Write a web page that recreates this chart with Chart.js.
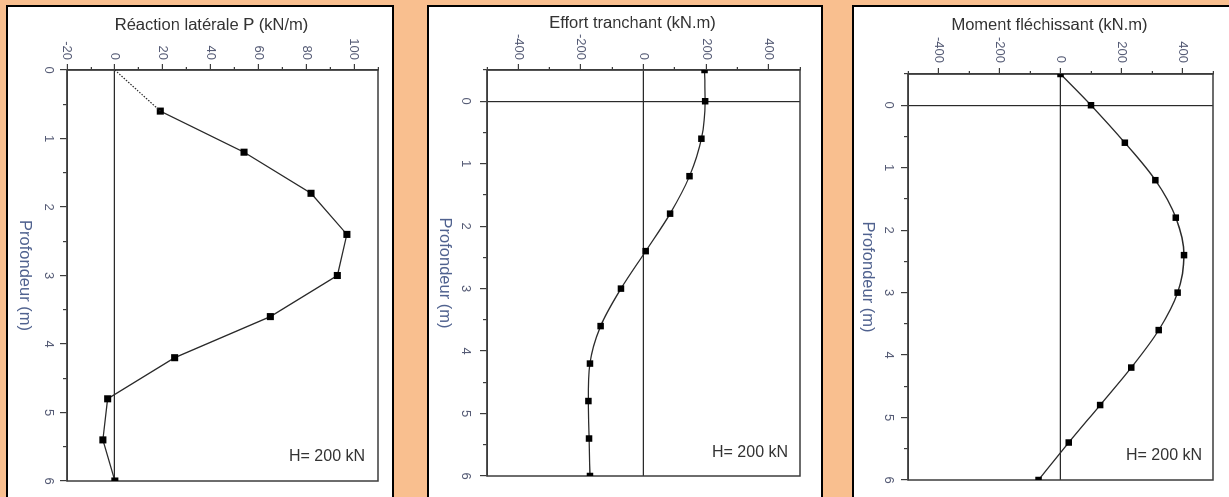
<!DOCTYPE html>
<html><head><meta charset="utf-8">
<script src="https://cdn.jsdelivr.net/npm/chart.js@4.4.1/dist/chart.umd.min.js"></script>
<style>
html,body{margin:0;padding:0;background:#f9bf8f;width:1229px;height:497px;overflow:hidden;font-family:'Liberation Sans',Arial,sans-serif;}
body{position:relative;}
.panel{position:absolute;background:#fff;border:2px solid #000;box-sizing:border-box;}
.rot{position:absolute;transform-origin:0 0;transform:rotate(90deg);}
.rot canvas{display:block;}
.note{position:absolute;font-size:16px;line-height:16px;color:#333;white-space:nowrap;}
</style></head><body>
<div class="panel" style="left:6px;top:5px;width:388px;height:520px"></div>
<div class="panel" style="left:427px;top:5px;width:396px;height:520px"></div>
<div class="panel" style="left:852px;top:5px;width:400px;height:520px"></div>

<div class="rot" id="w1"><canvas id="c1"></canvas></div>
<div class="rot" id="w2"><canvas id="c2"></canvas></div>
<div class="rot" id="w3"><canvas id="c3"></canvas></div>

<div class="note" style="left:289px;top:448px">H= 200 kN</div>
<div class="note" style="left:712px;top:444px">H= 200 kN</div>
<div class="note" style="left:1126px;top:447px">H= 200 kN</div>

<script>
// ---- data ----
const depthTicks = [0, 1, 2, 3, 4, 5, 6];
const reactionTicks = [-20, 0, 20, 40, 60, 80, 100];
const forceTicks = [-400, -200, 0, 200, 400];

const leadDepth = [0, 0.6];
const leadReaction = [0, 19];
const depthReaction = [0.6, 1.2, 1.8, 2.4, 3.0, 3.6, 4.2, 4.8, 5.4, 6.0];
const reaction = [19, 54, 82, 97, 93, 65, 25, -3, -5, 0];

const depthShear = [-0.5, 0, 0.6, 1.2, 1.8, 2.4, 3.0, 3.6, 4.2, 4.8, 5.4, 6.0];
const shear = [195, 197, 185, 147, 85, 7, -72, -137, -171, -176, -174, -171];

const depthMoment = [-0.5, 0, 0.6, 1.2, 1.8, 2.4, 3.0, 3.6, 4.2, 4.8, 5.4, 6.0];
const moment = [0, 100, 211, 311, 378, 405, 384, 322, 232, 130, 27, -72];

const titles = ['Réaction latérale P (kN/m)', 'Effort tranchant (kN.m)', 'Moment fléchissant (kN.m)'];
const depthTitle = 'Profondeur (m)';

// ---- styling ----
const FONT = "'Liberation Sans', Arial, sans-serif";
Chart.defaults.font.family = FONT;
const axisColor = '#3c3c3c';
const lineColor = '#2a2a2a';
const tickLabelColor = '#555b75';

const pts = (xs, ys) => xs.map((x, i) => ({x: x, y: ys[i]}));

const framePlugin = {
  id: 'frame',
  beforeDatasetsDraw(chart) {
    const {ctx, chartArea: a} = chart;
    ctx.save();
    ctx.strokeStyle = axisColor;
    ctx.lineWidth = 1.5;
    ctx.strokeRect(a.left, a.top, a.right - a.left, a.bottom - a.top);
    ctx.restore();
  }
};

// value-axis title, drawn beside the value scale (rotated canvas makes it horizontal)
const valueTitlePlugin = {
  id: 'valueTitle',
  afterDraw(chart, args, opts) {
    const {ctx, chartArea: a} = chart;
    const s = chart.scales.y;
    ctx.save();
    ctx.font = '16.5px ' + FONT;
    ctx.fillStyle = '#333333';
    ctx.textAlign = 'center';
    ctx.textBaseline = 'middle';
    ctx.translate(s.left + opts.offset, (a.top + a.bottom) / 2 + opts.shift);
    ctx.rotate(-Math.PI / 2);
    ctx.fillText(opts.text, 0, 0);
    ctx.restore();
  }
};

function makeChart(n, c) {
  const wrap = document.getElementById('w' + n);
  const cv = document.getElementById('c' + n);
  cv.width = c.W; cv.height = c.H;
  cv.style.width = c.W + 'px'; cv.style.height = c.H + 'px';
  wrap.style.left = (c.X0 + c.H) + 'px';
  wrap.style.top = c.Y0 + 'px';
  wrap.style.width = c.W + 'px';
  wrap.style.height = c.H + 'px';

  const near = (a, b) => Math.abs(a - b) < 1e-6;
  const isMajorDepth = v => depthTicks.some(t => near(t, v));
  const isMajorVal = v => c.valTicks.some(t => near(t, v));

  new Chart(cv, {
    type: 'line',
    data: {datasets: c.datasets},
    options: {
      responsive: false,
      animation: false,
      devicePixelRatio: 1,
      layout: {padding: {left: 0, right: c.padR, top: c.padT, bottom: 0}},
      plugins: {
        legend: {display: false}, tooltip: {enabled: false},
        valueTitle: {text: c.title, offset: c.titleOffset, shift: 11}
      },
      scales: {
        x: {
          type: 'linear', position: 'bottom', min: c.dMin, max: 6,
          afterFit: s => { s.height = c.xH; },
          ticks: {
            stepSize: 0.5, autoSkip: false, maxRotation: 0, minRotation: 0,
            padding: c.xTickPad, color: tickLabelColor, font: {size: 13},
            callback: v => isMajorDepth(v) ? String(Math.round(v)) : ''
          },
          grid: {
            color: ctx => (c.depthZero && ctx.tick && near(ctx.tick.value, 0)) ? lineColor : 'rgba(0,0,0,0)',
            lineWidth: 1.2,
            tickLength: 7, tickWidth: 1.2, tickColor: axisColor,
            tickBorderDash: ctx => (ctx.tick && isMajorDepth(ctx.tick.value)) ? [] : [3.5, 20]
          },
          border: {display: true, color: axisColor, width: 1.5},
          title: {display: true, text: depthTitle, color: '#50628f', font: {size: 16.5},
                  padding: {top: 0, bottom: c.xTitlePad}}
        },
        y: {
          type: 'linear', position: 'left', min: c.vMin, max: c.vMax,
          afterFit: s => { s.width = c.yW; },
          ticks: {
            stepSize: c.vStep, autoSkip: false,
            padding: c.yTickPad, color: tickLabelColor, font: {size: 13},
            callback: v => isMajorVal(v) ? String(Math.round(v)) : ''
          },
          grid: {
            color: ctx => (ctx.tick && near(ctx.tick.value, 0)) ? lineColor : 'rgba(0,0,0,0)',
            lineWidth: 1.2,
            tickLength: 6, tickWidth: 1.2, tickColor: axisColor,
            tickBorderDash: ctx => (ctx.tick && isMajorVal(ctx.tick.value)) ? [] : [0, 3, 10, 0]
          },
          border: {display: true, color: axisColor, width: 1.5},
          title: {display: false}
        }
      }
    },
    plugins: [framePlugin, valueTitlePlugin]
  });
}

const mainStyle = (r, mode) => ({
  borderColor: lineColor, borderWidth: 1.3,
  pointStyle: 'rect', pointRadius: r, pointBackgroundColor: '#000', pointBorderColor: '#000', pointBorderWidth: 0,
  cubicInterpolationMode: mode, tension: 0, fill: false
});

makeChart(1, {
  X0: 8, Y0: 7, H: 384, W: 490,
  yW: 63, padR: 16, padT: 14, xH: 59,
  xTitlePad: 7, titleOffset: 18.5, xTickPad: 4, yTickPad: 4,
  dMin: 0, depthZero: false,
  vMin: -20, vMax: 110, vStep: 10, valTicks: reactionTicks,
  title: titles[0],
  datasets: [
    Object.assign({data: pts(leadDepth, leadReaction)}, {borderColor: lineColor, borderWidth: 1.2, borderDash: [1.5, 1.5], pointRadius: 0, fill: false}),
    Object.assign({data: pts(depthReaction, reaction)}, mainStyle(5, 'default'))
  ]
});

makeChart(2, {
  X0: 429, Y0: 7, H: 392, W: 490,
  yW: 63, padR: 21, padT: 21, xH: 58,
  xTitlePad: 6, titleOffset: 16, xTickPad: 6.5, yTickPad: 4,
  dMin: -0.5, depthZero: true,
  vMin: -500, vMax: 500, vStep: 100, valTicks: forceTicks,
  title: titles[1],
  datasets: [
    Object.assign({data: pts(depthShear, shear)}, mainStyle(4.6, 'monotone'))
  ]
});

makeChart(3, {
  X0: 854, Y0: 7, H: 375, W: 490,
  yW: 67, padR: 17, padT: 16, xH: 54,
  xTitlePad: 4, titleOffset: 18.5, xTickPad: 4.5, yTickPad: 5,
  dMin: -0.5, depthZero: true,
  vMin: -500, vMax: 500, vStep: 100, valTicks: forceTicks,
  title: titles[2],
  datasets: [
    Object.assign({data: pts(depthMoment, moment)}, mainStyle(4.6, 'monotone'))
  ]
});
</script>
</body></html>
